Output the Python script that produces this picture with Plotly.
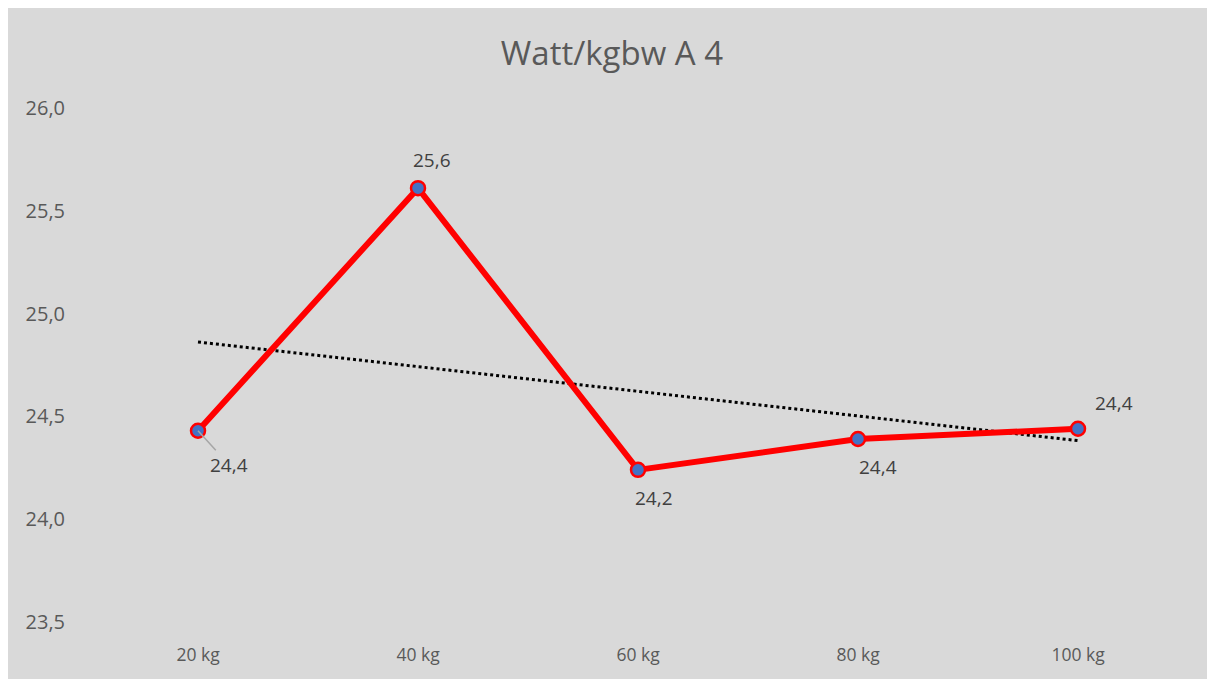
import numpy as np
import plotly.graph_objects as go

categories = ["20 kg", "40 kg", "60 kg", "80 kg", "100 kg"]
values = [24.43, 25.61, 24.24, 24.39, 24.44]
y_ticks = [23.5, 24.0, 24.5, 25.0, 25.5, 26.0]
y_ticklabels = ["23,5", "24,0", "24,5", "25,0", "25,5", "26,0"]
title = "Watt/kgbw A 4"

FONT = "Open Sans"
xi = np.arange(1, len(values) + 1)
slope, intercept = np.polyfit(xi, values, 1)
trend = slope * xi + intercept

fig = go.Figure()
fig.add_trace(go.Scatter(
    x=categories, y=trend, mode="lines",
    line=dict(color="black", width=3, dash="dot"),
    showlegend=False, hoverinfo="skip"))
fig.add_trace(go.Scatter(
    x=categories, y=values, mode="lines+markers",
    line=dict(color="#ff0000", width=6),
    marker=dict(size=14, color="#4472c4", line=dict(color="#ff0000", width=2.5)),
    showlegend=False))

# data labels: (dx, dy) offsets in pixels
offsets = [(31, 34), (14, -28), (16, 28), (20, 28), (36, -26)]
for i, (c, v) in enumerate(zip(categories, values)):
    dx, dy = offsets[i]
    txt = f"{v:.1f}".replace(".", ",")
    if i == 0:
        fig.add_annotation(x=c, y=v, xref="x", yref="y", text=txt,
                           showarrow=True, arrowhead=0, arrowwidth=1.5,
                           arrowcolor="#a6a6a6", ax=dx, ay=dy, standoff=0,
                           font=dict(family=FONT, size=19, color="#404040"))
    else:
        fig.add_annotation(x=c, y=v, xref="x", yref="y", text=txt,
                           showarrow=False, xshift=dx, yshift=-dy,
                           font=dict(family=FONT, size=19, color="#404040"))

W, H = 1215, 679
L, R, T, B = 80, 35, 100, 65

fig.update_layout(
    width=W, height=H,
    margin=dict(l=L, r=R, t=T, b=B),
    paper_bgcolor="#d9d9d9", plot_bgcolor="#d9d9d9",
    title=dict(text=title, x=(604 - L) / (W - L - R), xref="paper",
               xanchor="center", y=1 - 45 / H, yanchor="middle",
               font=dict(family=FONT, size=33, color="#595959")),
    xaxis=dict(type="category", range=[-0.5, 4.5], showgrid=False,
               zeroline=False, showline=False, ticks="",
               ticklabelstandoff=20,
               tickfont=dict(family=FONT, size=17.5, color="#595959")),
    yaxis=dict(range=[23.5, 26.0], tickvals=y_ticks, ticktext=y_ticklabels,
               showgrid=False, zeroline=False, showline=False, ticks="",
               ticklabelstandoff=22,
               tickfont=dict(family=FONT, size=20, color="#595959")),
)
fig.write_html("out.html")
